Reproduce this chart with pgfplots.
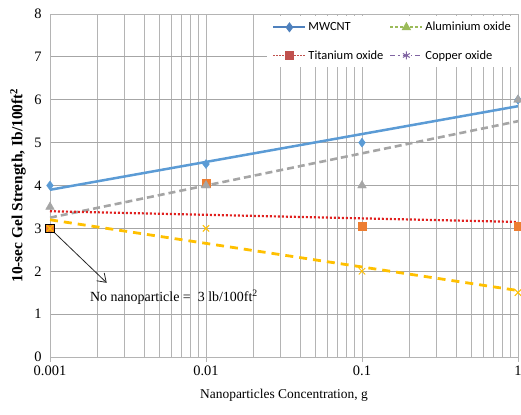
\documentclass[border=0pt]{standalone}
\usepackage{fontspec}
\setmainfont{Liberation Serif}
\newfontfamily\legfont{Carlito}
\usepackage{pgfplots}
\pgfplotsset{compat=1.18}
\usetikzlibrary{arrows.meta}
\definecolor{mblue}{HTML}{5B9BD5}
\definecolor{mgray}{HTML}{A5A5A5}
\definecolor{morange}{HTML}{ED7D31}
\definecolor{myellow}{HTML}{FFC000}
\definecolor{mred}{HTML}{E0201E}
\definecolor{lblue}{HTML}{4F81BD}
\definecolor{lgreen}{HTML}{9BBB59}
\definecolor{lred}{HTML}{C0504D}
\definecolor{lpurple}{HTML}{8064A2}
\definecolor{gridc}{HTML}{B4B4B4}
\definecolor{gridh}{HTML}{A6A6A6}
\begin{document}
\begin{tikzpicture}
\path[use as bounding box] (-50bp,-58bp) rectangle (471bp,357bp);
\begin{axis}[
  scale only axis, width=468bp, height=343bp,
  xmode=log, log basis x=10,
  xmin=0.001, xmax=1, ymin=0, ymax=8,
  xtick={0.001,0.01,0.1,1}, xticklabels={0.001,0.01,0.1,1},
  minor xtick={0.002,0.003,0.004,0.005,0.006,0.007,0.008,0.009,0.02,0.03,0.04,0.05,0.06,0.07,0.08,0.09,0.2,0.3,0.4,0.5,0.6,0.7,0.8,0.9},
  ytick={0,1,2,3,4,5,6,7,8},
  xmajorgrids, xminorgrids, ymajorgrids,
  x grid style={draw=gridc, line width=0.8bp},
  y grid style={draw=gridh, line width=1bp},
  axis line style={draw=gridc, line width=0.9bp},
  tick style={draw=gridc, line width=0.9bp},
  tick align=outside,
  xtick pos=bottom, ytick pos=left,
  major tick length=5bp, minor tick length=0bp,
  ytick style={draw=none},
  ticklabel style={font=\fontsize{14.5}{16}\selectfont},
  /pgf/number format/assume math mode=true,
  xlabel={Nanoparticles Concentration, g},
  ylabel={\textbf{10-sec Gel Strength, Ib/100ft\textsuperscript{2}}},
  xlabel style={font=\fontsize{13.5}{15}\selectfont, at={(axis description cs:0.5,-0.111)}, anchor=center},
  ylabel style={font=\fontsize{15.5}{17}\selectfont, at={(axis description cs:-0.0684,0.5)}, anchor=center},
  legend columns=2,
  legend cell align=left,
  legend style={at={(axis description cs:1,0.994)}, anchor=north east, draw=none, fill=white,
    font=\legfont\fontsize{12.5}{14}\selectfont, row sep=14bp, inner xsep=5bp, inner ysep=4bp,
    /tikz/every even column/.append style={column sep=4bp}},
  legend image code/.code={\draw[mark repeat=2,mark phase=2,#1] plot coordinates {(0bp,0bp) (16bp,0bp) (32bp,0bp)};},
]
% legend entries (styles as shown in the legend)
\addlegendimage{lblue, line width=2bp, mark=diamond*, mark size=3.5bp, mark options={solid, fill=lblue}}
\addlegendentry{MWCNT}
\addlegendimage{lgreen, line width=2bp, dash pattern=on 3bp off 2bp, mark=triangle*, mark size=3.5bp, mark options={solid, fill=lgreen}}
\addlegendentry{Aluminium oxide}
\addlegendimage{lred, line width=1.8bp, dash pattern=on 1.5bp off 1.5bp, mark=square*, mark size=3.5bp, mark options={solid, fill=lred}}
\addlegendentry{Titanium oxide}
\addlegendimage{lpurple, line width=1.8bp, dash pattern=on 5bp off 3bp on 1.5bp off 3bp, mark=asterisk, mark size=4bp, mark options={solid, line width=1bp}}
\addlegendentry{Copper oxide}
% trend lines
\addplot[forget plot, mblue, line width=2.5bp] coordinates {(0.001,3.9) (1,5.85)};
\addplot[forget plot, mgray, line width=2.6bp, dash pattern=on 7bp off 4bp] coordinates {(0.001,3.25) (1,5.5)};
\addplot[forget plot, mred, line width=2.2bp, dash pattern=on 2bp off 2bp] coordinates {(0.001,3.4) (1,3.15)};
\addplot[forget plot, myellow, line width=2.8bp, dash pattern=on 8bp off 6bp] coordinates {(0.001,3.2) (1,1.55)};
% data points
\addplot[forget plot, only marks, mark=diamond*, mark size=4.5bp, mblue] coordinates {(0.001,4) (0.01,4.5) (0.1,5) (1,6)};
\addplot[forget plot, only marks, mark=square*, mark size=4.2bp, morange] coordinates {(0.001,3) (0.01,4.05) (0.1,3.05) (1,3.05)};
\addplot[forget plot, only marks, mark=square, mark size=4.4bp, line width=0.9bp, black] coordinates {(0.001,3)};
\addplot[forget plot, only marks, mark=triangle*, mark size=5bp, mgray] coordinates {(0.001,3.5) (0.01,4) (0.1,4) (1,6)};
\addplot[forget plot, only marks, mark=x, mark size=4.5bp, line width=1bp, myellow] coordinates {(0.001,3) (0.01,3) (0.1,2) (1,1.5)};
% annotation
\draw[black!85, line width=0.8bp, -{Straight Barb[length=8bp, width=11bp]}] (axis cs:0.001,3) -- (axis cs:0.00231,1.73);
\node[anchor=west, inner sep=0pt, font=\fontsize{14}{16}\selectfont] at (axis cs:0.0018,1.40) {No nanoparticle =\ \ 3 lb/100ft\textsuperscript{2}};
\end{axis}
\end{tikzpicture}
\end{document}
